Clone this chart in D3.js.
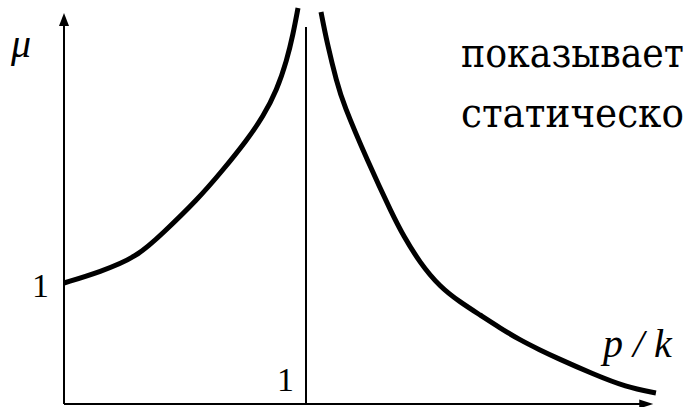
<!DOCTYPE html>
<html>
<head>
<meta charset="utf-8">
<script src="https://cdn.jsdelivr.net/npm/d3@7"></script>
<style>
  html, body { margin: 0; padding: 0; background: #fff; overflow: hidden; }
  svg { display: block; }
  text { font-family: "Liberation Serif", "Times New Roman", Times, "DejaVu Serif", serif; }
  text.ru { font-family: "DejaVu Serif Condensed", "DejaVu Serif", serif; font-stretch: condensed; }
</style>
</head>
<body>
<svg id="chart" width="686" height="407"></svg>
<script>
// ---- data (p/k, mu) ----
const leftP   = [0, 0.149, 0.302, 0.409, 0.550, 0.657, 0.756, 0.822, 0.880, 0.921, 0.946, 0.967];
const leftMu  = [1.0, 1.091, 1.215, 1.413, 1.686, 1.934, 2.182, 2.372, 2.595, 2.843, 3.050, 3.273];
const rightP  = [1.062, 1.087, 1.128, 1.153, 1.252, 1.360, 1.401, 1.471, 1.554, 1.636, 1.719, 1.802, 1.884, 1.967, 2.037, 2.186, 2.322, 2.446];
const rightMu = [3.240, 2.983, 2.653, 2.488, 2.017, 1.554, 1.397, 1.165, 0.967, 0.843, 0.736, 0.628, 0.529, 0.446, 0.380, 0.248, 0.140, 0.091];
const xTickValues = [1];
const xTickLabels = ["1"];
const yTickValues = [1];
const yTickLabels = ["1"];
const xAxisLabel = "p / k";
const yAxisLabel = "μ";
const resonanceLineTop = 3.116;
const xMax = 2.435;
const yMax = 3.231;
const textLines = ["показывает", "статическо"];

const svg = d3.select("#chart");
const x = d3.scaleLinear().domain([0, 1]).range([64, 306]);
const y = d3.scaleLinear().domain([0, 1]).range([404, 283]);

// axes
const axisG = svg.append("g").attr("stroke", "#000").attr("stroke-width", 2).attr("fill", "none");
axisG.append("line").attr("x1", x(0)).attr("y1", y(0)).attr("x2", x(0)).attr("y2", y(yMax) + 10);
axisG.append("line").attr("x1", x(0)).attr("y1", y(0)).attr("x2", x(xMax) - 10).attr("y2", y(0));
// arrow heads
svg.append("path")
  .attr("d", `M${x(0)},${y(yMax)} L${x(0) - 5},${y(yMax) + 13} L${x(0) + 5},${y(yMax) + 13} Z`)
  .attr("fill", "#000");
svg.append("path")
  .attr("d", `M${x(xMax)},${y(0)} L${x(xMax) - 14},${y(0) - 4.5} L${x(xMax) - 14},${y(0) + 4.5} Z`)
  .attr("fill", "#000");

// resonance vertical line at p/k = 1
svg.append("line")
  .attr("x1", x(1)).attr("x2", x(1))
  .attr("y1", y(0)).attr("y2", y(resonanceLineTop))
  .attr("stroke", "#000").attr("stroke-width", 2);

// curves
const line = d3.line().x(d => x(d[0])).y(d => y(d[1])).curve(d3.curveBasis);
const leftData = leftP.map((p, i) => [p, leftMu[i]]);
const rightData = rightP.map((p, i) => [p, rightMu[i]]);
[leftData, rightData].forEach(dd => {
  svg.append("path").datum(dd).attr("d", line)
    .attr("fill", "none").attr("stroke", "#000").attr("stroke-width", 5)
    .attr("stroke-linecap", "butt").attr("stroke-linejoin", "round");
});

// tick labels
svg.selectAll(".xt").data(xTickValues).enter().append("text")
  .attr("x", d => x(d) - 12).attr("y", 391)
  .attr("text-anchor", "end")
  .attr("font-size", 34)
  .text((d, i) => xTickLabels[i]);
svg.selectAll(".yt").data(yTickValues).enter().append("text")
  .attr("x", x(0) - 15).attr("y", d => y(d) + 14)
  .attr("text-anchor", "end")
  .attr("font-size", 34)
  .text((d, i) => yTickLabels[i]);

// axis labels
svg.append("text").attr("x", 11).attr("y", 57)
  .attr("font-style", "italic").attr("font-size", 40)
  .text(yAxisLabel);
svg.append("text").attr("x", 603).attr("y", 357)
  .attr("font-style", "italic").attr("font-size", 40)
  .attr("xml:space", "preserve")
  .text(xAxisLabel);

// surrounding text fragment (fit inside the right edge)
const ruX = 461, ruMaxW = 686 - ruX - 2;
svg.selectAll(".tl").data(textLines).enter().append("text")
  .attr("class", "ru")
  .attr("x", ruX).attr("y", (d, i) => 67 + i * 60)
  .attr("font-size", 40)
  .text(d => d)
  .each(function () {
    const w = this.getComputedTextLength();
    const fs = Math.min(46, 40 * ruMaxW / w);
    d3.select(this).attr("font-size", fs);
  });
</script>
</body>
</html>
